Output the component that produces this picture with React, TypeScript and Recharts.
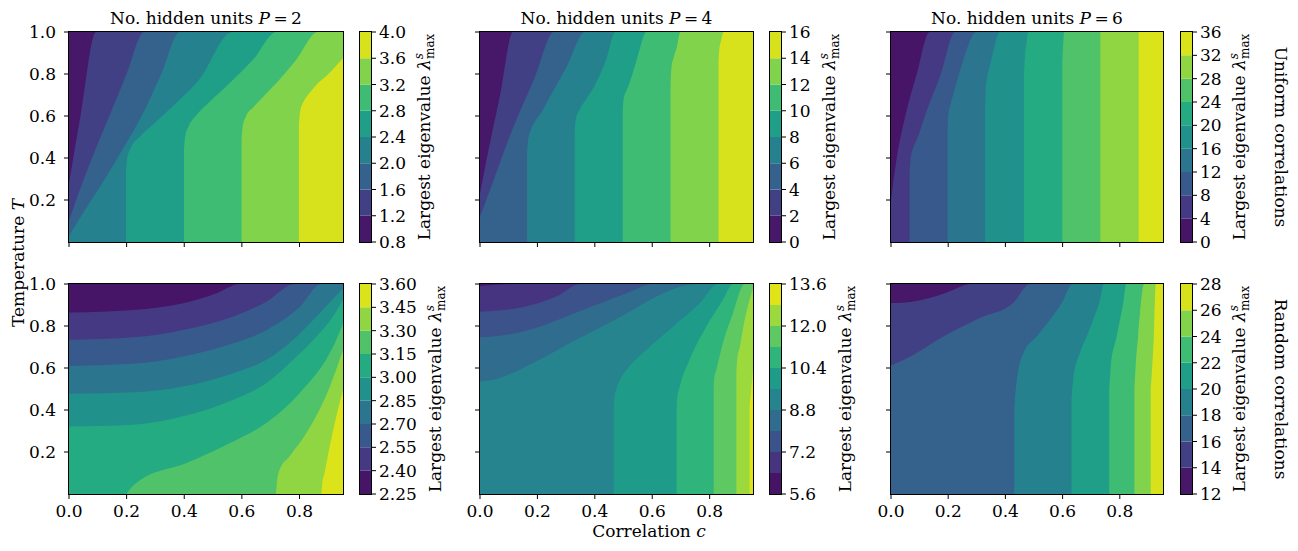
import React from "react";
import { ComposedChart, Area, XAxis, YAxis, BarChart, Bar } from "recharts";

type Pt = [number, number]; // [correlation c, temperature T]

const FONT = "'DejaVu Serif', serif";
const FS = 17;
const C_MAX = 0.951;

const corrTicks = [0, 0.2, 0.4, 0.6, 0.8];
const tempTicks = [0.2, 0.4, 0.6, 0.8, 1.0];

// contour levels of the largest eigenvalue, one list per panel
const levelsUniformP2 = [0.8, 1.2, 1.6, 2.0, 2.4, 2.8, 3.2, 3.6, 4.0];
const levelsUniformP4 = [0, 2, 4, 6, 8, 10, 12, 14, 16];
const levelsUniformP6 = [0, 4, 8, 12, 16, 20, 24, 28, 32, 36];
const levelsRandomP2 = [2.25, 2.4, 2.55, 2.7, 2.85, 3.0, 3.15, 3.3, 3.45, 3.6];
const levelsRandomP4 = [5.6, 6.4, 7.2, 8.0, 8.8, 9.6, 10.4, 11.2, 12.0, 12.8, 13.6];
const levelsRandomP6 = [12, 14, 16, 18, 20, 22, 24, 26, 28];

const cbTicksRandomP4 = [5.6, 7.2, 8.8, 10.4, 12.0, 13.6];

// iso-lines: entry i is the contour at levels[i + 1]; below/right of it the value is higher
const uniformP2: Pt[][] = [
  [[0, 0.28], [0.04, 0.6], [0.094, 1]],
  [[0, 0.1], [0.03, 0.22], [0.08, 0.4], [0.14, 0.6], [0.2, 0.8], [0.261, 1]],
  [[0, 0.03], [0.05, 0.14], [0.12, 0.29], [0.19, 0.45], [0.26, 0.62], [0.32, 0.8], [0.385, 1]],
  [[0.198, 0.34], [0.202, 0.4], [0.215, 0.45], [0.245, 0.5], [0.3, 0.57], [0.37, 0.66], [0.45, 0.77], [0.567, 1]],
  [[0.399, 0.44], [0.403, 0.5], [0.415, 0.55], [0.44, 0.6], [0.49, 0.67], [0.56, 0.76], [0.64, 0.87], [0.72, 1]],
  [[0.599, 0.49], [0.603, 0.55], [0.615, 0.6], [0.639, 0.64], [0.68, 0.7], [0.72, 0.757], [0.79, 0.87], [0.864, 1]],
  [[0.798, 0.55], [0.802, 0.62], [0.815, 0.67], [0.835, 0.71], [0.86, 0.75], [0.893, 0.79], [0.951, 0.876]],
];

const uniformP4: Pt[][] = [
  [[0, 0.23], [0.03, 0.44], [0.07, 0.7], [0.115, 1]],
  [[0, 0.12], [0.03, 0.23], [0.07, 0.38], [0.12, 0.56], [0.19, 0.78], [0.258, 1]],
  [[0.164, 0.42], [0.167, 0.48], [0.176, 0.53], [0.19, 0.57], [0.215, 0.62], [0.243, 0.69], [0.3, 0.83], [0.367, 1]],
  [[0.33, 0.53], [0.333, 0.58], [0.347, 0.63], [0.37, 0.68], [0.405, 0.76], [0.44, 0.87], [0.471, 1]],
  [[0.497, 0.62], [0.5, 0.68], [0.51, 0.72], [0.521, 0.757], [0.54, 0.84], [0.556, 0.917], [0.579, 1]],
  [[0.664, 0.76], [0.667, 0.83], [0.675, 0.88], [0.686, 0.93], [0.698, 1]],
  [[0.831, 0.86], [0.834, 0.92], [0.84, 0.96], [0.849, 1]],
];

const uniformP6: Pt[][] = [
  [[0, 0.2], [0.02, 0.4], [0.05, 0.6], [0.09, 0.8], [0.135, 1]],
  [[0.065, 0.33], [0.068, 0.39], [0.076, 0.44], [0.091, 0.49], [0.126, 0.63], [0.172, 0.79], [0.224, 1]],
  [[0.198, 0.54], [0.2, 0.6], [0.207, 0.65], [0.219, 0.71], [0.253, 0.868], [0.298, 1]],
  [[0.329, 0.66], [0.332, 0.74], [0.346, 0.84], [0.36, 0.92], [0.379, 1]],
  [[0.465, 0.8], [0.468, 0.88], [0.474, 0.95], [0.48, 1]],
  [[0.599, 0.86], [0.602, 0.94], [0.605, 1]],
  [[0.732, 1]],
  [[0.866, 1]],
];

const randomP2: Pt[][] = [
  [[0, 0.864], [0.223, 0.876], [0.396, 0.908], [0.512, 0.956], [0.593, 1]],
  [[0, 0.734], [0.223, 0.746], [0.396, 0.781], [0.57, 0.845], [0.685, 0.916], [0.783, 1]],
  [[0, 0.61], [0.223, 0.62], [0.396, 0.655], [0.57, 0.718], [0.685, 0.78], [0.8, 0.89], [0.876, 1]],
  [[0, 0.477], [0.223, 0.484], [0.396, 0.512], [0.57, 0.575], [0.685, 0.639], [0.778, 0.734], [0.859, 0.845], [0.951, 0.98]],
  [[0, 0.322], [0.223, 0.33], [0.396, 0.37], [0.57, 0.449], [0.685, 0.528], [0.778, 0.639], [0.859, 0.75], [0.916, 0.845], [0.951, 0.924]],
  [[0.2, 0], [0.21, 0.02], [0.24, 0.06], [0.408, 0.148], [0.57, 0.25], [0.685, 0.338], [0.8, 0.48], [0.916, 0.7], [0.951, 0.81]],
  [[0.718, 0], [0.722, 0.06], [0.731, 0.116], [0.766, 0.18], [0.824, 0.29], [0.905, 0.51], [0.951, 0.686]],
  [[0.876, 0], [0.879, 0.05], [0.887, 0.1], [0.905, 0.227], [0.928, 0.37], [0.951, 0.496]],
];

const randomP4: Pt[][] = [
  [[0, 0.99], [0.127, 1]],
  [[0, 0.868], [0.15, 0.89], [0.266, 0.94], [0.35, 1]],
  [[0, 0.746], [0.1, 0.76], [0.208, 0.797], [0.359, 0.877], [0.51, 0.956], [0.603, 1]],
  [[0, 0.536], [0.05, 0.545], [0.12, 0.58], [0.208, 0.64], [0.3, 0.71], [0.4, 0.78], [0.51, 0.86], [0.6, 0.93], [0.68, 0.98], [0.754, 1]],
  [[0.466, 0.42], [0.468, 0.46], [0.475, 0.5], [0.49, 0.55], [0.51, 0.59], [0.58, 0.687], [0.672, 0.797], [0.765, 0.908], [0.829, 1]],
  [[0.685, 0.4], [0.687, 0.46], [0.696, 0.512], [0.73, 0.639], [0.788, 0.797], [0.846, 0.924], [0.881, 1]],
  [[0.814, 0.5], [0.816, 0.55], [0.823, 0.59], [0.846, 0.718], [0.881, 0.86], [0.922, 1]],
  [[0.893, 0.58], [0.896, 0.64], [0.905, 0.7], [0.922, 0.83], [0.939, 0.924], [0.951, 0.98]],
  [[0.939, 0.42], [0.945, 0.5], [0.951, 0.6]],
];

const randomP6: Pt[][] = [
  [[0, 0.909], [0.079, 0.917], [0.19, 0.957], [0.23, 0.98], [0.277, 1]],
  [[0, 0.611], [0.079, 0.663], [0.174, 0.743], [0.311, 0.838], [0.427, 0.909], [0.486, 1]],
  [[0.431, 0.4], [0.435, 0.48], [0.44, 0.544], [0.45, 0.62], [0.463, 0.671], [0.509, 0.75], [0.556, 0.83], [0.597, 0.91], [0.635, 1]],
  [[0.631, 0.45], [0.637, 0.544], [0.66, 0.671], [0.684, 0.75], [0.707, 0.83], [0.73, 0.92], [0.744, 1]],
  [[0.763, 0.5], [0.768, 0.6], [0.789, 0.75], [0.812, 0.91], [0.823, 1]],
  [[0.851, 0.5], [0.855, 0.6], [0.864, 0.75], [0.885, 1]],
  [[0.908, 0.5], [0.913, 0.6], [0.919, 0.75], [0.926, 1]],
];

// viridis sampled every 0.05
const viridisStops = [
  "#440154", "#471365", "#482475", "#463480", "#414487", "#3b528b", "#355f8d",
  "#2f6c8e", "#2a788e", "#25848e", "#21918c", "#1e9c89", "#22a884", "#2fb47c",
  "#44bf70", "#5ec962", "#7ad151", "#9bd93c", "#bddf26", "#dfe318", "#fde725",
];

function viridis(t: number) {
  const x = Math.max(0, Math.min(1, t)) * 20;
  const i = Math.min(19, Math.floor(x));
  const f = x - i;
  const a = viridisStops[i];
  const b = viridisStops[i + 1];
  const ch = (s: string, k: number) => parseInt(s.slice(1 + 2 * k, 3 + 2 * k), 16);
  const out = [0, 1, 2].map((k) => Math.round(ch(a, k) + (ch(b, k) - ch(a, k)) * f));
  return `rgb(${out.join(",")})`;
}

const bandColors = (levels: number[]) =>
  levels.slice(1).map((_, i) => viridis((i + 0.5) / (levels.length - 1)));

const toRows = (pts: Pt[]) => {
  const rows = pts.map(([c, T]) => ({ c, T }));
  const [lc, lT] = pts[pts.length - 1];
  if (lT >= 1 && lc < C_MAX) rows.push({ c: C_MAX, T: 1 });
  return rows;
};

const tickStyle = { fill: "#000", fontSize: FS, fontFamily: FONT };
const blank = () => "";
const fmt1 = (v: number) => v.toFixed(1);

// plot boxes
const ROW_TOP = [32, 284];
const PLOT_H = 210;
const COL_LEFT = [69, 480, 891];
const PLOT_W = [274, 273, 272];
const CB_LEFT = [360, 770, 1181];
const CB_W = 11;

interface PanelProps {
  left: number;
  top: number;
  width: number;
  levels: number[];
  lines: Pt[][];
  xLabels: boolean;
  yLabels: boolean;
}

function ContourPanel({ left, top, width, levels, lines, xLabels, yLabels }: PanelProps) {
  const colors = bandColors(levels);
  const layers: Pt[][] = [[[0, 1], [C_MAX, 1]], ...lines];
  return (
    <div style={{ position: "absolute", left: left - 70, top: top - 10 }}>
      <ComposedChart width={width + 80} height={PLOT_H + 50} margin={{ top: 10, right: 10, bottom: 0, left: 0 }}>
        <XAxis
          type="number"
          dataKey="c"
          domain={[0, C_MAX]}
          allowDataOverflow
          ticks={corrTicks}
          interval={0}
          height={40}
          axisLine={false}
          tickSize={5}
          tickMargin={6}
          tickLine={{ stroke: "#000" }}
          tick={tickStyle}
          tickFormatter={xLabels ? fmt1 : blank}
        />
        <YAxis
          type="number"
          domain={[0, 1]}
          allowDataOverflow
          ticks={tempTicks}
          interval={0}
          width={70}
          axisLine={false}
          tickSize={5}
          tickMargin={8}
          tickLine={{ stroke: "#000" }}
          tick={tickStyle}
          tickFormatter={yLabels ? fmt1 : blank}
        />
        {layers.map((pts, i) => (
          <Area
            key={i}
            data={toRows(pts)}
            dataKey="T"
            type="monotone"
            fill={colors[i]}
            fillOpacity={1}
            stroke="none"
            isAnimationActive={false}
          />
        ))}
      </ComposedChart>
    </div>
  );
}

interface BarProps {
  left: number;
  top: number;
  levels: number[];
  ticks: number[];
  digits: number;
}

function ColorBar({ left, top, levels, ticks, digits }: BarProps) {
  const colors = bandColors(levels);
  const row: Record<string, number | string> = { k: "cb" };
  levels.slice(1).forEach((l, i) => (row[`v${i}`] = l - levels[i]));
  const base = levels[0];
  return (
    <div style={{ position: "absolute", left, top: top - 10 }}>
      <BarChart
        width={CB_W + 70}
        height={PLOT_H + 20}
        data={[row]}
        margin={{ top: 10, right: 0, bottom: 10, left: 0 }}
        barCategoryGap={0}
        barGap={0}
      >
        <XAxis dataKey="k" hide />
        <YAxis
          orientation="right"
          type="number"
          domain={[0, levels[levels.length - 1] - base]}
          allowDataOverflow
          ticks={ticks.map((t) => t - base)}
          interval={0}
          width={70}
          axisLine={false}
          tickSize={5}
          tickMargin={3}
          tickLine={{ stroke: "#000" }}
          tick={tickStyle}
          tickFormatter={(v: number) => (v + base).toFixed(digits)}
        />
        {colors.map((col, i) => (
          <Bar key={i} dataKey={`v${i}`} stackId="cb" fill={col} isAnimationActive={false} />
        ))}
      </BarChart>
    </div>
  );
}

function CbLabel({ x, y }: { x: number; y: number }) {
  return (
    <text transform={`translate(${x},${y}) rotate(-90)`} textAnchor="middle" fontSize={FS} fontFamily={FONT} fill="#000">
      Largest eigenvalue <tspan fontStyle="italic">λ</tspan>
      <tspan fontStyle="italic" fontSize={12} dy={-7}>s</tspan>
      <tspan fontSize={12} dx={-6} dy={11}>max</tspan>
    </text>
  );
}

function Title({ x, p }: { x: number; p: number }) {
  return (
    <text x={x} y={23.5} textAnchor="middle" fontSize={FS} fontFamily={FONT} fill="#000">
      No. hidden units <tspan fontStyle="italic">P</tspan>
      {`\u2009=\u2009${p}`}
    </text>
  );
}

export default function App() {
  const panels = [
    { row: 0, col: 0, levels: levelsUniformP2, lines: uniformP2, ticks: levelsUniformP2, digits: 1 },
    { row: 0, col: 1, levels: levelsUniformP4, lines: uniformP4, ticks: levelsUniformP4, digits: 0 },
    { row: 0, col: 2, levels: levelsUniformP6, lines: uniformP6, ticks: levelsUniformP6, digits: 0 },
    { row: 1, col: 0, levels: levelsRandomP2, lines: randomP2, ticks: levelsRandomP2, digits: 2 },
    { row: 1, col: 1, levels: levelsRandomP4, lines: randomP4, ticks: cbTicksRandomP4, digits: 1 },
    { row: 1, col: 2, levels: levelsRandomP6, lines: randomP6, ticks: levelsRandomP6, digits: 0 },
  ];
  const cbLabelX = [
    [430, 835, 1245],
    [441, 851, 1245],
  ];

  return (
    <div style={{ position: "absolute", left: 0, top: 0, width: 1298, height: 551, background: "#fff" }}>
      {panels.map((p) => (
        <React.Fragment key={`${p.row}-${p.col}`}>
          <ContourPanel
            left={COL_LEFT[p.col]}
            top={ROW_TOP[p.row]}
            width={PLOT_W[p.col]}
            levels={p.levels}
            lines={p.lines}
            xLabels={p.row === 1}
            yLabels={p.col === 0}
          />
          <ColorBar left={CB_LEFT[p.col]} top={ROW_TOP[p.row]} levels={p.levels} ticks={p.ticks} digits={p.digits} />
        </React.Fragment>
      ))}
      <svg width={1298} height={551} style={{ position: "absolute", left: 0, top: 0, pointerEvents: "none" }}>
        {panels.map((p) => (
          <g key={`f-${p.row}-${p.col}`} fill="none" stroke="#000" strokeWidth={1}>
            <rect x={COL_LEFT[p.col] - 0.5} y={ROW_TOP[p.row] - 0.5} width={PLOT_W[p.col] + 1} height={PLOT_H + 1} />
            <rect x={CB_LEFT[p.col] - 0.5} y={ROW_TOP[p.row] - 0.5} width={CB_W + 1} height={PLOT_H + 1} />
          </g>
        ))}
        {[2, 4, 6].map((pv, i) => (
          <Title key={pv} x={COL_LEFT[i] + PLOT_W[i] / 2} p={pv} />
        ))}
        {cbLabelX.map((xs, r) =>
          xs.map((x, c) => <CbLabel key={`l-${r}-${c}`} x={x} y={ROW_TOP[r] + PLOT_H / 2} />)
        )}
        <text transform="translate(1275,137) rotate(90)" textAnchor="middle" fontSize={FS} fontFamily={FONT}>
          Uniform correlations
        </text>
        <text transform="translate(1275,389) rotate(90)" textAnchor="middle" fontSize={FS} fontFamily={FONT}>
          Random correlations
        </text>
        <text transform="translate(24,263) rotate(-90)" textAnchor="middle" fontSize={FS} fontFamily={FONT}>
          Temperature <tspan fontStyle="italic">T</tspan>
        </text>
        <text x={649} y={537} textAnchor="middle" fontSize={FS} fontFamily={FONT}>
          Correlation <tspan fontStyle="italic">c</tspan>
        </text>
      </svg>
    </div>
  );
}
